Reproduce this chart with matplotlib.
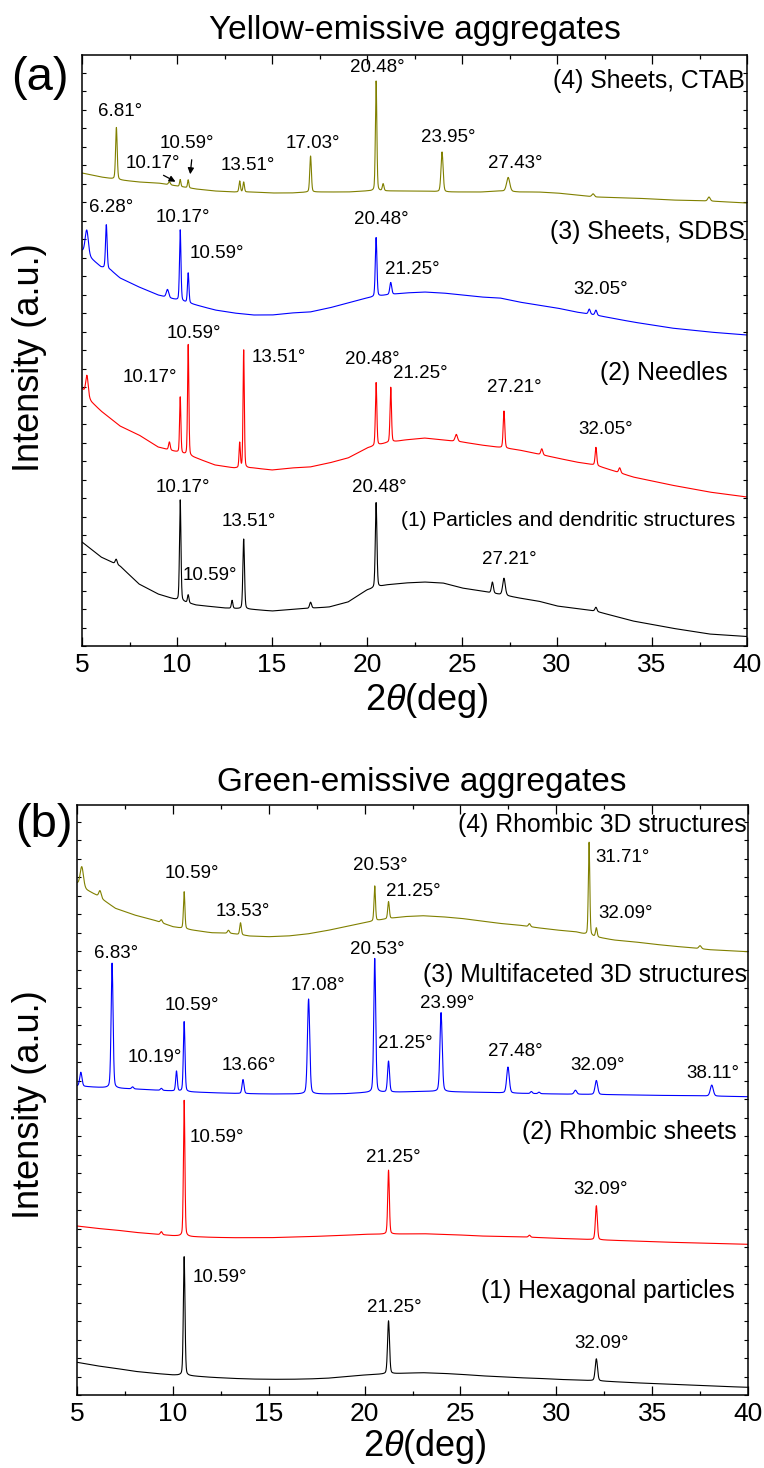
# XRD patterns of the yellow- and green-emissive aggregates (two stacked panels)

import numpy as np
import matplotlib
matplotlib.use('Agg')
import matplotlib.pyplot as plt
from matplotlib import font_manager
from matplotlib.ticker import MultipleLocator

plt.rcParams['font.family'] = ['Liberation Sans', 'DejaVu Sans']
plt.rcParams['mathtext.fontset'] = 'custom'
plt.rcParams['mathtext.it'] = 'Liberation Sans:italic'
plt.rcParams['mathtext.rm'] = 'Liberation Sans'

# the peak labels in the original use a condensed face; use it if it is installed
try:
    font_manager.findfont(font_manager.FontProperties(family='Liberation Sans Narrow'),
                          fallback_to_default=False)
    PEAK_FONT = dict(family=['Liberation Sans Narrow', 'Liberation Sans'], fontsize=16.5)
except ValueError:
    PEAK_FONT = dict(family=['Liberation Sans', 'DejaVu Sans'], fontsize=13.5)

# ---------------- panel (a): yellow-emissive aggregates ----------------
# baseline (2theta, intensity) + peaks (position, height, fwhm)
a1_base_x = [5, 6, 7, 8, 9, 10, 11, 12.5, 14, 15, 16, 18, 19, 20, 21, 22, 23, 24, 25, 26, 28, 29, 30, 32, 34, 36, 38, 40]
a1_base_y = [104, 89, 80, 62, 52, 46, 41, 38, 36.5, 35, 36.5, 39, 44, 56, 61, 63, 64, 63, 58, 55, 48, 45, 40, 35, 25, 18, 12, 9.5]
a1_pk_pos = [6.8, 10.17, 10.59, 12.9, 13.51, 17.03, 20.48, 26.6, 27.21, 32.05]
a1_pk_hgt = [5, 101, 8, 8, 70, 6, 85, 11, 17, 4]
a1_pk_wid = [0.12, 0.09, 0.09, 0.09, 0.1, 0.12, 0.1, 0.12, 0.16, 0.12]

a2_base_x = [5, 5.5, 6, 7, 8, 9, 10, 11, 12, 13, 14, 15, 16, 17, 18, 19, 20, 21, 22, 23, 24, 25, 26, 28, 30, 31, 32, 34, 36, 38, 40]
a2_base_y = [258, 244, 235, 220, 211, 199, 194, 188, 181, 178, 178, 176, 178, 179, 183, 188, 198, 203, 206, 208, 206, 204, 201, 196, 188, 184, 181, 169, 161, 154, 149]
a2_pk_pos = [5.26, 9.6, 10.17, 10.59, 13.3, 13.51, 20.48, 21.25, 24.7, 27.21, 29.2, 32.05, 33.3]
a2_pk_hgt = [20, 8, 56, 111, 25, 118, 63, 55, 7, 37, 6, 18, 5]
a2_pk_wid = [0.15, 0.1, 0.08, 0.08, 0.08, 0.08, 0.09, 0.09, 0.15, 0.1, 0.12, 0.1, 0.12]

a3_base_x = [5, 6, 6.5, 7, 8, 9, 10, 11, 12, 13, 14, 15, 16, 17, 18, 19, 20, 21, 22, 23, 24, 25, 26, 27, 28, 29, 30, 31, 32, 34, 36, 38, 40]
a3_base_y = [395, 379, 376, 368, 359, 351, 346, 341, 336, 333, 331, 331, 333, 334, 338, 343, 348, 351, 353, 354, 353, 351, 349, 348, 344, 341, 338, 334, 331, 324, 318, 314, 311]
a3_pk_pos = [5.25, 6.28, 9.5, 10.17, 10.59, 20.48, 21.25, 31.7, 32.05]
a3_pk_hgt = [25, 44, 8, 71, 30, 59, 12, 5, 5]
a3_pk_wid = [0.2, 0.1, 0.15, 0.09, 0.09, 0.1, 0.12, 0.12, 0.12]

a4_base_x = [5, 6, 7, 8, 9, 10, 11, 12, 13, 14, 15, 16, 17, 18, 19, 20, 21, 22, 23, 24, 25, 26, 27, 28, 29, 30, 32, 34, 36, 38, 40]
a4_base_y = [473, 469, 466, 464, 463, 460, 457, 455, 454, 454, 453, 453, 454, 454, 454, 455, 455, 455, 455, 454, 454, 454, 455, 454, 454, 453, 449, 448, 446, 445, 443]
a4_pk_pos = [6.81, 9.6, 10.17, 10.59, 13.3, 13.51, 17.03, 20.48, 20.85, 23.95, 27.43, 31.9, 38.0]
a4_pk_hgt = [52, 3, 7, 8, 11, 10, 36, 110, 7, 40, 14, 3, 4]
a4_pk_wid = [0.1, 0.12, 0.08, 0.08, 0.09, 0.09, 0.1, 0.09, 0.1, 0.13, 0.2, 0.15, 0.15]

a_labels = [
    ('6.81°', 7.0, 535, 'center'), ('10.17°', 8.74, 483, 'center'), ('10.59°', 10.53, 502, 'center'),
    ('13.51°', 13.74, 480, 'center'), ('17.03°', 17.16, 503, 'center'), ('20.48°', 20.53, 578, 'center'),
    ('23.95°', 24.26, 509, 'center'), ('27.43°', 27.79, 483, 'center'), ('(4) Sheets, CTAB', 39.9, 565, 'right'),
    ('6.28°', 6.53, 439, 'center'), ('10.17°', 10.32, 428, 'center'), ('20.48°', 20.74, 426, 'center'),
    ('(3) Sheets, SDBS', 39.9, 414, 'right'), ('10.59°', 10.68, 392, 'left'), ('21.25°', 20.95, 376, 'left'),
    ('32.05°', 32.3, 357, 'center'),
    ('10.59°', 10.9, 312, 'center'), ('13.51°', 13.95, 289, 'left'), ('20.48°', 20.27, 286, 'center'),
    ('21.25°', 22.8, 273, 'center'), ('10.17°', 8.58, 268, 'center'), ('(2) Needles', 39.0, 273, 'right'),
    ('27.21°', 27.74, 259, 'center'), ('32.05°', 32.58, 217, 'center'),
    ('10.17°', 10.32, 158, 'center'), ('20.48°', 20.66, 158, 'center'),
    ('(1) Particles and dendritic structures', 39.37, 126, 'right'), ('13.51°', 13.79, 124, 'center'),
    ('27.21°', 27.5, 86, 'center'), ('10.59°', 10.32, 70, 'left'),
]
# arrows pointing at the two small olive peaks: (tail x, tail y, head x, head y)
a_arrows = [(9.16, 472, 10.05, 463), (10.79, 489, 10.68, 469)]

# ---------------- panel (b): green-emissive aggregates ----------------
b1_base_x = [5, 6, 7, 8, 9, 10, 11, 12, 13, 14, 15, 16, 17, 18, 19, 20, 21, 22, 23, 24, 25, 26, 27, 28, 29, 30, 31, 32, 33, 34, 36, 38, 40]
b1_base_y = [32.7, 29.3, 26.7, 23.7, 21.7, 20, 19, 17.7, 16.7, 16, 15.7, 15.7, 16, 16.7, 18.3, 20, 21, 21.7, 22.3, 21.7, 20.7, 19.3, 18.3, 17.3, 16.7, 15.7, 15, 14.3, 13.3, 12.3, 10.7, 9, 7.7]
b1_pk_pos = [10.59, 21.25, 32.09]
b1_pk_hgt = [119, 53, 22]
b1_pk_wid = [0.1, 0.12, 0.14]

b2_base_x = [5, 6, 7, 8, 9, 10, 11, 12, 13, 15, 17, 19, 20, 22, 23, 24, 25, 26, 28, 30, 31, 32, 34, 36, 38, 40]
b2_base_y = [169, 166.7, 165, 162.7, 161, 159.3, 158.3, 157.7, 157.3, 157.3, 158.3, 159.7, 160.7, 161, 161.3, 160.7, 160, 159, 158.3, 156.7, 156, 155.3, 154, 152.7, 151.7, 150.7]
b2_pk_pos = [9.4, 10.59, 21.25, 28.6, 32.09]
b2_pk_hgt = [3, 136, 64, 2, 34]
b2_pk_wid = [0.12, 0.09, 0.1, 0.12, 0.12]

b3_base_x = [5, 6, 7, 8, 9, 10, 11, 12, 13, 14, 15, 16, 18, 19, 20, 22, 23, 25, 26, 28, 30, 33, 35, 37, 40]
b3_base_y = [309, 307.7, 306.7, 306, 305, 304, 303, 302.3, 301.7, 301.3, 301, 301, 301, 301.3, 302.3, 303, 303.7, 303, 302.7, 301.7, 301, 300.3, 299.7, 299.3, 298.3]
b3_pk_pos = [5.2, 6.83, 7.9, 9.4, 10.19, 10.59, 13.66, 17.08, 20.53, 21.25, 23.99, 27.48, 28.7, 29.1, 31.0, 32.09, 38.11]
b3_pk_hgt = [14, 125, 2, 2, 20, 70, 14, 95, 134, 31, 79, 26, 2, 1.5, 4, 14, 11]
b3_pk_wid = [0.14, 0.12, 0.12, 0.12, 0.1, 0.1, 0.12, 0.14, 0.12, 0.12, 0.14, 0.16, 0.12, 0.12, 0.16, 0.16, 0.18]

b4_base_x = [5, 5.5, 6, 7, 8, 9, 10, 11, 12, 13, 14, 15, 16, 17, 18, 19, 20, 21, 22, 23, 24, 25, 26, 27, 28, 29, 30, 31, 32, 33, 34, 35, 36, 37, 38, 40]
b4_base_y = [511.7, 505, 500, 486.7, 480, 475, 468.3, 465, 462.3, 461.7, 459, 458.3, 459, 461, 464.3, 468.3, 472.3, 475.7, 478.3, 479.3, 478.3, 476.7, 474.3, 471.7, 470, 467.3, 465, 463.3, 458.3, 455, 453.3, 451, 449, 447.3, 445.3, 443.3]
b4_pk_pos = [5.25, 6.2, 9.4, 10.59, 12.9, 13.53, 20.53, 21.25, 28.6, 31.71, 32.09, 37.5]
b4_pk_hgt = [20, 7, 3, 37, 3, 12, 35, 17, 3, 93, 9, 3]
b4_pk_wid = [0.2, 0.15, 0.12, 0.09, 0.12, 0.1, 0.09, 0.1, 0.12, 0.09, 0.1, 0.15]

b_labels = [
    ('(4) Rhombic 3D structures', 39.95, 570, 'right'), ('10.59°', 10.97, 522, 'center'),
    ('20.53°', 20.81, 529, 'center'), ('31.71°', 33.48, 537, 'center'), ('21.25°', 22.53, 503, 'center'),
    ('13.53°', 13.66, 483, 'center'), ('32.09°', 33.59, 482, 'center'),
    ('6.83°', 7.03, 442, 'center'), ('20.53°', 20.65, 445, 'center'),
    ('(3) Multifaceted 3D structures', 39.95, 420, 'right'), ('17.08°', 17.55, 409, 'center'),
    ('10.59°', 10.97, 389, 'center'), ('23.99°', 24.3, 392, 'center'), ('10.19°', 9.07, 338, 'center'),
    ('21.25°', 22.14, 352, 'center'), ('13.66°', 13.97, 329, 'center'), ('27.48°', 27.85, 343, 'center'),
    ('32.09°', 32.18, 329, 'center'), ('38.11°', 38.18, 322, 'center'),
    ('10.59°', 12.3, 257, 'center'), ('(2) Rhombic sheets', 39.43, 263, 'right'),
    ('21.25°', 21.48, 238, 'center'), ('32.09°', 32.3, 206, 'center'),
    ('10.59°', 12.46, 118, 'center'), ('(1) Hexagonal particles', 39.32, 104, 'right'),
    ('21.25°', 21.54, 87, 'center'), ('32.09°', 32.35, 51, 'center'),
]

OLIVE = '#808000'
W, H = 764, 1468


def pattern(base_x, base_y, pk_pos, pk_hgt, pk_wid):
    x = np.union1d(np.arange(5, 40.0001, 0.01), pk_pos)
    y = np.interp(x, base_x, base_y)
    for c, h, w in zip(pk_pos, pk_hgt, pk_wid):
        d = (x - c) / w
        y = y + h * (0.75 * np.exp(-4 * np.log(2) * d * d) + 0.25 / (1 + 4 * d * d))
    return x, y


def style_axes(ax, ymax):
    ax.set_xlim(5, 40)
    ax.set_ylim(0, ymax)
    ax.xaxis.set_major_locator(MultipleLocator(5))
    ax.xaxis.set_minor_locator(MultipleLocator(2.5))
    ax.yaxis.set_major_locator(MultipleLocator(18.5))
    ax.tick_params(which='both', direction='in', top=True, right=True)
    ax.tick_params(axis='x', which='major', length=6.5, width=0.9, labelsize=19, pad=5)
    ax.tick_params(axis='x', which='minor', length=3, width=0.9)
    ax.tick_params(axis='y', which='major', length=3, width=0.8, labelleft=False)
    for s in ax.spines.values():
        s.set_linewidth(1.1)


def put_labels(ax, labels):
    for txt, tx, ty, ha in labels:
        if txt.startswith('(1) Particles'):
            ax.text(tx, ty, txt, ha=ha, va='center', fontsize=15)
        elif txt.startswith('('):
            ax.text(tx, ty, txt, ha=ha, va='center', fontsize=17.8)
        else:
            ax.text(tx, ty, txt, ha=ha, va='center', **PEAK_FONT)


def px_box(left, right, top, bottom):
    return [left / W, 1 - bottom / H, (right - left) / W, (bottom - top) / H]


fig = plt.figure(figsize=(W / 100, H / 100), dpi=100)

# panel (a)
ax_a = fig.add_axes(px_box(82, 747, 55, 646))
for (bx, by, pp, ph, pw), col in zip(
        [(a1_base_x, a1_base_y, a1_pk_pos, a1_pk_hgt, a1_pk_wid),
         (a2_base_x, a2_base_y, a2_pk_pos, a2_pk_hgt, a2_pk_wid),
         (a3_base_x, a3_base_y, a3_pk_pos, a3_pk_hgt, a3_pk_wid),
         (a4_base_x, a4_base_y, a4_pk_pos, a4_pk_hgt, a4_pk_wid)],
        ['black', 'red', 'blue', OLIVE]):
    x, y = pattern(bx, by, pp, ph, pw)
    ax_a.plot(x, y, color=col, lw=0.8)
style_axes(ax_a, 591)
put_labels(ax_a, a_labels)
for x0, y0, x1, y1 in a_arrows:
    ax_a.annotate('', xy=(x1, y1), xytext=(x0, y0),
                  arrowprops=dict(arrowstyle='-|>', color='black', lw=0.9, mutation_scale=9))

# panel (b)
ax_b = fig.add_axes(px_box(77, 748, 805, 1395))
for (bx, by, pp, ph, pw), col in zip(
        [(b1_base_x, b1_base_y, b1_pk_pos, b1_pk_hgt, b1_pk_wid),
         (b2_base_x, b2_base_y, b2_pk_pos, b2_pk_hgt, b2_pk_wid),
         (b3_base_x, b3_base_y, b3_pk_pos, b3_pk_hgt, b3_pk_wid),
         (b4_base_x, b4_base_y, b4_pk_pos, b4_pk_hgt, b4_pk_wid)],
        ['black', 'red', 'blue', OLIVE]):
    x, y = pattern(bx, by, pp, ph, pw)
    ax_b.plot(x, y, color=col, lw=0.8)
style_axes(ax_b, 590)
put_labels(ax_b, b_labels)


# titles, panel letters and axis titles placed in pixel positions
def ftext(px, py, s, **kw):
    fig.text(px / W, 1 - py / H, s, ha='center', va='center', **kw)


ftext(415, 30, 'Yellow-emissive aggregates', fontsize=24)
ftext(40, 78, '(a)', fontsize=34)
ftext(30, 358, 'Intensity (a.u.)', fontsize=26, rotation=90)
ftext(427, 700, r'2$\mathit{\theta}$(deg)', fontsize=26)

ftext(422, 782, 'Green-emissive aggregates', fontsize=24)
ftext(44, 825, '(b)', fontsize=34)
ftext(30, 1105, 'Intensity (a.u.)', fontsize=26, rotation=90)
ftext(425, 1447, r'2$\mathit{\theta}$(deg)', fontsize=26)

fig.savefig('out.png', dpi=100)
